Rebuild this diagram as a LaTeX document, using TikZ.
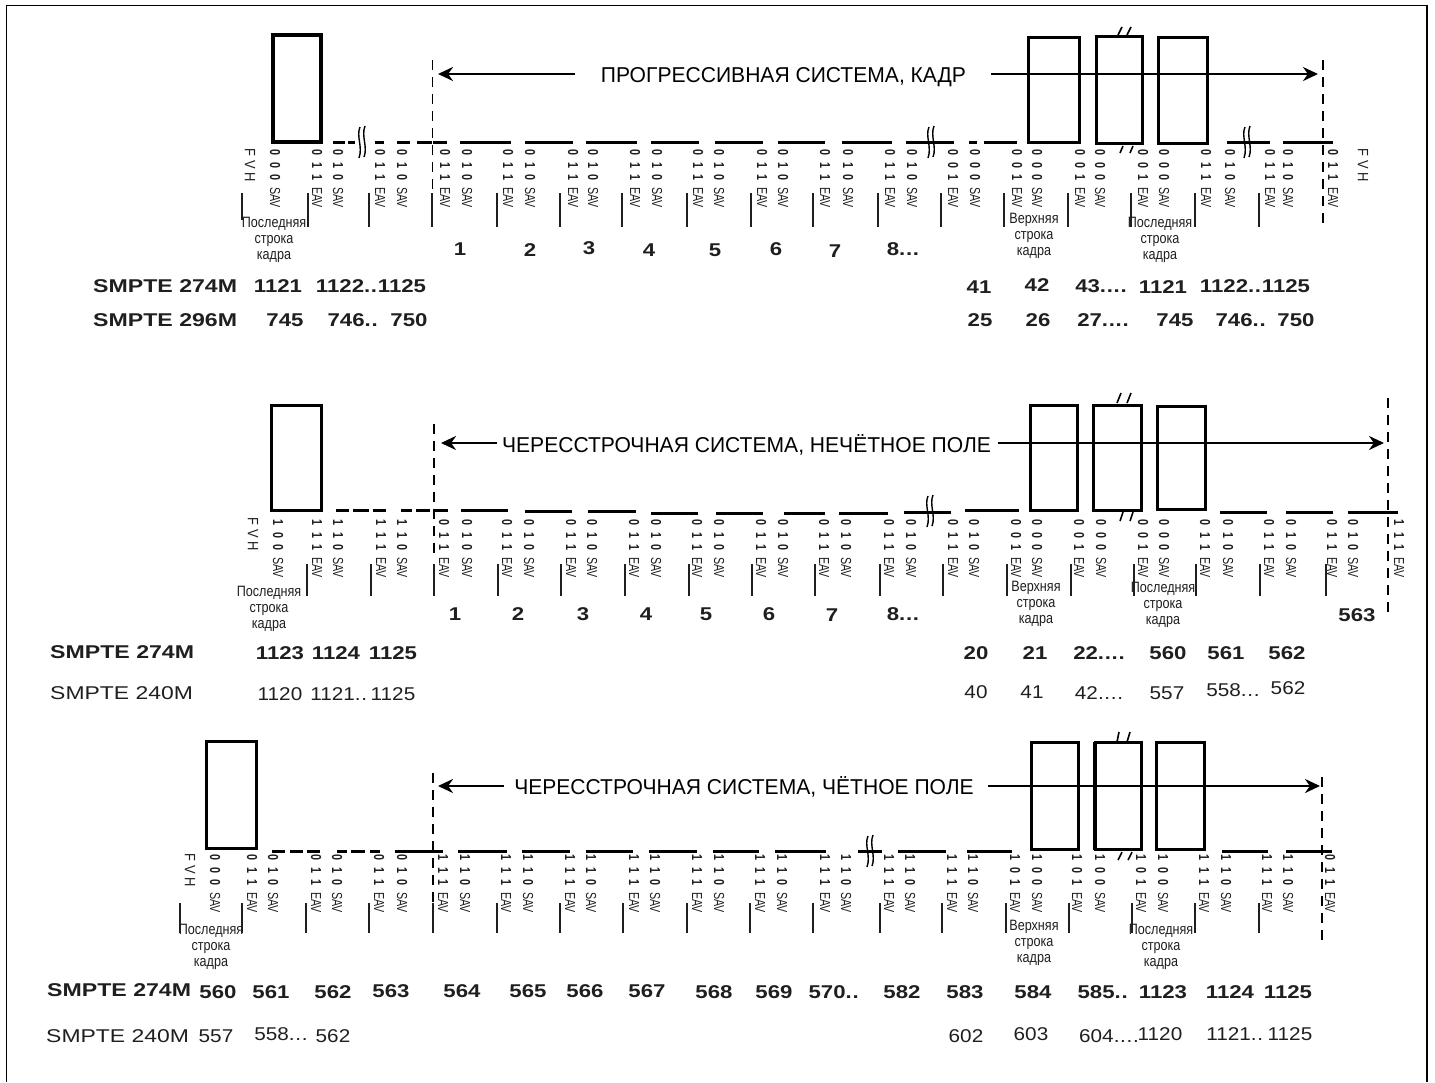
\documentclass[tikz,border=0pt]{standalone}
\usepackage{fontspec}
\setmainfont{Liberation Sans}
\usetikzlibrary{arrows.meta}
\definecolor{ink}{gray}{0.12}
\newcommand\dtwo{.\kern0.6pt.\kern0.6pt}
\newcommand\dthree{.\kern0.6pt.\kern0.6pt.}
\newcommand\dfour{.\kern0.6pt.\kern0.6pt.\kern0.6pt.}
\newcommand\sigrun[4]{\scalebox{.74}[1]{\makebox[17pt][c]{\bfseries #1}\makebox[17pt][c]{\bfseries #2}\makebox[17pt][c]{\bfseries #3}\hspace{4.5pt}#4}}
\newcommand\fvhrun{\scalebox{.86}[1]{\makebox[14.5pt][c]{F}\makebox[14.5pt][c]{V}\makebox[14.5pt][c]{H}}}
\newcommand\nb[1]{\scalebox{1.2}[1]{#1}}
\newcommand\nr[1]{\scalebox{1.12}[1]{#1}}
\newcommand\stdname[1]{\scalebox{1.25}[1]{#1}}
\newcommand\stdlight[1]{\scalebox{1.24}[1]{#1}}
\newcommand\sm[1]{\scalebox{.84}[1]{#1}}
\newcommand\tripleline[1]{\sm{#1}\\\sm{строка}\\\sm{кадра}}
\newcommand\wavebreak[2]{%
  \draw[wave] (#1-2,#2-15) .. controls (#1-6,#2-6) and (#1+1,#2+5) .. (#1-3,#2+16);
  \draw[wave] (#1+3,#2-16) .. controls (#1-1,#2-6) and (#1+6,#2+5) .. (#1+2,#2+15);}
\tikzset{
  x=1pt,y=-1pt,
  frame/.style={draw=black,line width=1.4pt},
  bar/.style={draw=black,line width=3pt},
  boxa/.style={draw=black,line width=3pt},
  boxb/.style={draw=black,line width=4pt},
  tickmark/.style={draw=ink,line width=1.5pt},
  dashv/.style={draw=black,line width=1.2pt,dash pattern=on 10pt off 7pt},
  arr/.style={draw=black,line width=2.8pt,-{Stealth[length=15pt,width=14pt]}},
  wave/.style={draw=black,line width=1.4pt},
  slash/.style={draw=black,line width=1.6pt},
  sig/.style={rotate=-90,anchor=west,inner sep=0pt,text=ink,font=\fontsize{14.5}{15}\selectfont},
  fvh/.style={rotate=-90,anchor=west,inner sep=0pt,text=ink,font=\fontsize{15}{16}\selectfont},
  titletext/.style={inner sep=0pt,text=black,font=\fontsize{21.5}{24}\selectfont},
  small/.style={inner sep=0pt,align=center,text=ink,font=\fontsize{15}{16}\selectfont},
  numb/.style={inner sep=0pt,text=ink,font=\fontsize{18.5}{20}\bfseries\selectfont},
  numr/.style={inner sep=0pt,text=ink,font=\fontsize{18.5}{20}\selectfont},
  stdb/.style={inner sep=0pt,anchor=west,text=ink,font=\fontsize{18.5}{20}\bfseries\selectfont},
  stdr/.style={inner sep=0pt,anchor=west,text=ink,font=\fontsize{18.5}{20}\selectfont},
}
\begin{document}
\begin{tikzpicture}
\useasboundingbox (0,0) rectangle (1435,1082);
% frame
\draw[frame] (6.5,1082) -- (6.5,5.5) -- (1427,5.5) -- (1427,1082);

% ===== ROW 1 =====
\draw[boxb] (272.5,34.5) rectangle (321,142);
\draw[boxa] (1028.5,37.5) rectangle (1079,142);
\draw[boxa] (1096.5,36) rectangle (1142,143);
\draw[boxa] (1158.5,37.5) rectangle (1207.5,143);
\foreach \a/\b in {333/345,348/355,375/384,397/410,417/432,433/447,460/511,525/573,586/637,651/699,715/763,778/825,842/892,906/954,969/977,984/1017,1227/1270,1283/1333}
  \draw[bar] (\a,142.5) -- (\b,142.5);
\wavebreak{362}{142}\wavebreak{931}{142}\wavebreak{1247}{142}
\foreach \a/\b/\c/\d in {1118/35/1122/27,1127/35/1131/27,1120/153/1123/146,1130/153/1133/146}
  \draw[slash] (\a,\b) -- (\c,\d);
\coordinate (dl1a) at (432.5,60); \coordinate (dl1b) at (432.5,190);
\coordinate (dr1a) at (1323,60); \coordinate (dr1b) at (1323,227);
\draw[dashv] (dl1a) -- (dl1b);
\draw[dashv] (dr1a) -- (dr1b);
\node[titletext] (title1) at (783.5,77) {\scalebox{.98}[1]{ПРОГРЕССИВНАЯ СИСТЕМА, КАДР}};
\coordinate (a1l) at (438,74); \coordinate (a1s) at (575,74);
\coordinate (a1r) at (1318,74); \coordinate (a1t) at (991,74);
\draw[arr] (a1s) -- (a1l);
\draw[arr] (a1t) -- (a1r);
\node[fvh] (fvh1a) at (250,146) {\fvhrun};
\node[fvh] (fvh1b) at (1363,146) {\fvhrun};
\foreach \x/\b/\n in {275/000/SAV,317/011/EAV,338/010/SAV,380/011/EAV,402/010/SAV,445/011/EAV,467/010/SAV,508/011/EAV,530/010/SAV,573/011/EAV,593/010/SAV,635/011/EAV,657/010/SAV,698/011/EAV,719/010/SAV,762/011/EAV,783/010/SAV,825/011/EAV,848/010/SAV,890/011/EAV,912/010/SAV,953/001/EAV,975/000/SAV,1017/001/EAV,1037/000/SAV,1080/001/EAV,1100/000/SAV,1143/001/EAV,1164/000/SAV,1206/011/EAV,1230/010/SAV,1270/011/EAV,1288/010/SAV,1333/011/EAV}
  \node[sig] (sa\x) at (\x,146) {\expandafter\sigrun\b{\n}};
\foreach \x/\t/\e in {242/193/220,308/193/227,369/193/227,432/193/227,497/193/227,560/193/227,622/193/227,687/193/227,751/193/227,813/193/227,878/193/227,941/193/227,1004/193/227,1068/193/227,1131/193/227,1195/193/227,1259/193/227}
  \draw[tickmark] (\x,\t) -- (\x,\e);
\node[small] (la1) at (274,240) {\tripleline{Последняя}};
\node[small] (la2) at (1034,236) {\tripleline{Верхняя}};
\node[small] (la3) at (1160,240) {\tripleline{Последняя}};
\foreach \x/\y/\t in {460/249/1,530/250/2,589/248/3,649/250/4,715/250/5,776/249/6,835/251/7,903/249/8\dthree,
  278/286/1121,371/286/1122\dtwo 1125,979/287/41,1037/285/42,1101/286/43\dfour,1163/287/1121,1255/286/1122\dtwo 1125,
  285/320/745,353/320/746\dtwo,409/320/750,980/320/25,1038/320/26,1103/320/27\dfour,1175/320/745,1241/320/746\dtwo,1296/320/750}
  \node[numb] (na\x-\y) at (\x,\y) {\nb{\t}};
\node[stdb] (std1a) at (93,286) {\stdname{SMPTE 274M}};
\node[stdb] (std1b) at (93,320) {\stdname{SMPTE 296M}};

% ===== ROW 2 =====
\draw[boxa] (271.5,405) rectangle (321.5,510);
\draw[boxa] (1030,405.5) rectangle (1077,510);
\draw[boxa] (1093.5,405) rectangle (1141,510);
\draw[boxa] (1157,406.5) rectangle (1205,509);
\foreach \a/\b/\y in {336/349/510.5,353/369/510.5,373/386/510.5,401/412/510.5,416/430/510.5,433/448/510.5,461/508/510.5,525/572/511,588/636/511,651/698/513,716/763/513,784/825/513,839/888/513,904/951/512,965/1019/510.5,1220/1267/512,1286/1333/512,1348/1398/512}
  \draw[bar] (\a,\y) -- (\b,\y);
\wavebreak{930}{511}
\foreach \a/\b/\c/\d in {1117/403/1121/393,1127/403/1131/393,1120/521/1123/512,1130/521/1133/512}
  \draw[slash] (\a,\b) -- (\c,\d);
\coordinate (dl2a) at (434,424); \coordinate (dl2b) at (434,556);
\coordinate (dr2a) at (1388,398); \coordinate (dr2b) at (1388,613);
\draw[dashv] (dl2a) -- (dl2b);
\draw[dashv] (dr2a) -- (dr2b);
\node[titletext] (title2) at (746.5,445) {\scalebox{.98}[1]{ЧЕРЕССТРОЧНАЯ СИСТЕМА, НЕЧЁТНОЕ ПОЛЕ}};
\coordinate (a2l) at (441,443); \coordinate (a2s) at (497,443);
\coordinate (a2r) at (1384,443); \coordinate (a2t) at (998,443);
\draw[arr] (a2s) -- (a2l);
\draw[arr] (a2t) -- (a2r);
\node[fvh] (fvh2) at (253,515) {\fvhrun};
\foreach \x/\b/\n in {278/100/SAV,317/111/EAV,338/110/SAV,381/111/EAV,402/110/SAV,444/011/EAV,467/010/SAV,507/011/EAV,529/010/SAV,571/011/EAV,592/010/SAV,634/011/EAV,656/010/SAV,697/011/EAV,719/010/SAV,761/011/EAV,783/010/SAV,824/011/EAV,846/010/SAV,889/011/EAV,911/010/SAV,953/011/EAV,974/010/SAV,1016/001/EAV,1037/000/SAV,1079/001/EAV,1101/000/SAV,1143/001/EAV,1164/000/SAV,1205/011/EAV,1228/010/SAV,1269/011/EAV,1291/010/SAV,1332/011/EAV,1353/010/SAV,1399/111/EAV}
  \node[sig] (sb\x) at (\x,516) {\expandafter\sigrun\b{\n}};
\foreach \x in {307,371,434,498,561,625,689,752,815,880,943,1007,1071,1134,1196,1260,1326}
  \draw[tickmark] (\x,564) -- (\x,596);
\node[small] (lb1) at (269,609) {\tripleline{Последняя}};
\node[small] (lb2) at (1036,604) {\tripleline{Верхняя}};
\node[small] (lb3) at (1163,605) {\tripleline{Последняя}};
\foreach \x/\y/\t in {455/614/1,518/614/2,583/614/3,646/614/4,706/614/5,769/614/6,832/615/7,903/614/8\dthree,1357/615/563,
  280/653/1123,336/653/1124,393/653/1125,976/653/20,1035/653/21,1099/653/22\dfour,1168/653/560,1226/653/561,1287/653/562}
  \node[numb] (nb\x-\y) at (\x,\y) {\nb{\t}};
\foreach \x/\y/\t in {280/694/1120,339/694/1121\dtwo,393/694/1125,976/692/40,1032/692/41,1099/693/42\dfour,1167/693/557,1233/690/558\dthree,1288/688/562}
  \node[numr] (nc\x-\y) at (\x,\y) {\nr{\t}};
\node[stdb] (std2a) at (50,652) {\stdname{SMPTE 274M}};
\node[stdr] (std2b) at (50,693) {\stdlight{SMPTE 240M}};

% ===== ROW 3 =====
\draw[boxa] (206.5,741.5) rectangle (256,848);
\draw[boxa] (1031,742.5) rectangle (1078,849);
\draw[line width=2pt] (1079,742) -- (1079,850);
\draw[boxa] (1095,742.5) rectangle (1141,849);
\draw[line width=2pt] (1094,742) -- (1094,850);
\draw[boxa] (1156,742.5) rectangle (1204,849.5);
\foreach \a/\b in {272/285,290/303,307/320,337/347,351/365,370/380,395/443,458/507,522/570,586/633,649/697,713/759,775/826,858/882,898/946,967/1012,1222/1268,1286/1332}
  \draw[bar] (\a,851) -- (\b,851);
\wavebreak{870}{851}
\foreach \a/\b/\c/\d in {1117/742/1119/732,1127/742/1130/732,1118/860/1122/852,1128/860/1132/852}
  \draw[slash] (\a,\b) -- (\c,\d);
\coordinate (dl3a) at (433,773); \coordinate (dl3b) at (433,925);
\coordinate (dr3a) at (1322,777); \coordinate (dr3b) at (1322,946);
\draw[dashv] (dl3a) -- (dl3b);
\draw[dashv] (dr3a) -- (dr3b);
\node[titletext] (title3) at (744,787) {\scalebox{.98}[1]{ЧЕРЕССТРОЧНАЯ СИСТЕМА, ЧЁТНОЕ ПОЛЕ}};
\coordinate (a3l) at (438,786); \coordinate (a3s) at (504,786);
\coordinate (a3r) at (1320,786); \coordinate (a3t) at (988,786);
\draw[arr] (a3s) -- (a3l);
\draw[arr] (a3t) -- (a3r);
\node[fvh] (fvh3) at (190,851) {\fvhrun};
\foreach \x/\b/\n in {215/000/SAV,252/011/EAV,273/010/SAV,316/011/EAV,337/010/SAV,379/011/EAV,402/010/SAV,443/111/EAV,465/110/SAV,506/111/EAV,528/110/SAV,570/111/EAV,591/110/SAV,634/111/EAV,655/110/SAV,697/111/EAV,719/110/SAV,760/111/EAV,782/110/SAV,825/111/EAV,846/110/SAV,889/111/EAV,910/110/SAV,952/111/EAV,973/110/SAV,1015/101/EAV,1037/100/SAV,1077/101/EAV,1100/100/SAV,1141/101/EAV,1163/100/SAV,1204/111/EAV,1226/110/SAV,1267/111/EAV,1288/110/SAV,1330/011/EAV}
  \node[sig] (sc\x) at (\x,851) {\expandafter\sigrun\b{\n}};
\foreach \x in {180,242,306,369,433,497,560,623,687,750,813,880,942,1006,1069,1132,1195,1259}
  \draw[tickmark] (\x,903) -- (\x,933);
\node[small] (lc1) at (211,947) {\tripleline{Последняя}};
\node[small] (lc2) at (1034,943) {\tripleline{Верхняя}};
\node[small] (lc3) at (1161,947) {\tripleline{Последняя}};
\foreach \x/\y/\t in {218/992/560,271/992/561,333/992/562,391/991/563,462/991/564,528/991/565,585/991/566,647/991/567,714/992/568,774/992/569,834/992/570\dtwo,902/992/582,965/992/583,1033/992/584,1103/992/585\dtwo,1163/992/1123,1230/992/1124,1288/992/1125}
  \node[numb] (nd\x-\y) at (\x,\y) {\nb{\t}};
\foreach \x/\y/\t in {216/1036/557,281/1034/558\dthree,333/1036/562,966/1036/602,1031/1034/603,1109/1036/604\dfour,1160/1034/1120,1235/1034/1121\dtwo,1290/1034/1125}
  \node[numr] (ne\x-\y) at (\x,\y) {\nr{\t}};
\node[stdb] (std3a) at (47,990) {\stdname{SMPTE 274M}};
\node[stdr] (std3b) at (46,1036) {\stdlight{SMPTE 240M}};
\end{tikzpicture}
\end{document}
